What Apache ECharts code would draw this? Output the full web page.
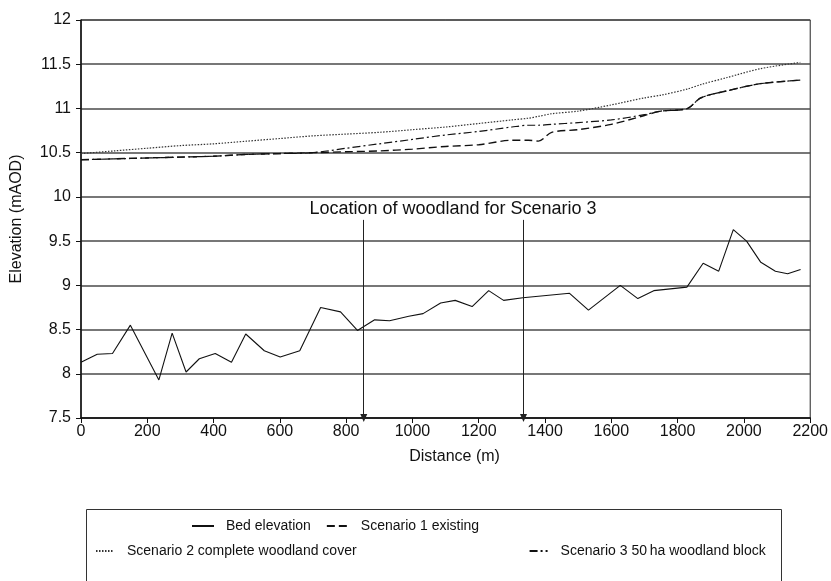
<!DOCTYPE html>
<html>
<head>
<meta charset="utf-8">
<script src="https://cdn.jsdelivr.net/npm/echarts@6/dist/echarts.min.js"></script>
<style>
html,body{margin:0;padding:0;background:#fff;}
#chart{width:831px;height:581px;}
</style>
</head>
<body>
<div id="chart"></div>
<script>
// ---- data ----
var bedDistance = [0,49,95,149,235,275,317,357,405,454,497,553,601,660,723,783,834,886,931,989,1032,1085,1129,1180,1230,1275,1333,1474,1531,1627,1680,1728,1828,1877,1924,1968,2008,2051,2095,2132,2171];
var bedElevation = [8.13,8.22,8.23,8.55,7.93,8.46,8.02,8.17,8.23,8.13,8.45,8.26,8.19,8.26,8.75,8.70,8.49,8.61,8.60,8.65,8.68,8.80,8.83,8.76,8.94,8.83,8.86,8.91,8.72,9.00,8.85,8.94,8.98,9.25,9.16,9.63,9.50,9.26,9.16,9.13,9.18];

var scenarioDistance = [0,100,200,300,400,500,600,700,800,900,1000,1100,1200,1300,1350,1380,1420,1500,1600,1700,1750,1830,1870,1950,2050,2170];
var scenario1 = [10.42,10.43,10.44,10.45,10.46,10.48,10.49,10.50,10.51,10.52,10.54,10.57,10.59,10.64,10.64,10.63,10.73,10.76,10.82,10.92,10.97,11.00,11.12,11.20,11.28,11.32];
var scenario2 = [10.49,10.52,10.55,10.58,10.60,10.63,10.66,10.69,10.71,10.73,10.76,10.79,10.83,10.87,10.89,10.91,10.94,10.97,11.04,11.12,11.15,11.22,11.27,11.35,11.45,11.52];
var scenario3 = [10.42,10.43,10.44,10.45,10.46,10.48,10.49,10.50,10.55,10.60,10.65,10.70,10.74,10.79,10.81,10.81,10.82,10.84,10.87,10.93,10.97,11.00,11.12,11.20,11.28,11.32];

var seriesNames = ['Bed elevation','Scenario 1 existing','Scenario 2 complete woodland cover','Scenario 3 50\u2009ha woodland block'];
var woodlandArrowDistance = [853, 1335];
var woodlandArrowTop = 9.74;
var woodlandLabel = 'Location of woodland for Scenario 3';

var xTitle = 'Distance (m)';
var yTitle = 'Elevation (mAOD)';

function pairs(xs, ys){ return xs.map(function(x,i){ return [x, ys[i]]; }); }

var FONT = 'Liberation Sans';
var chart = echarts.init(document.getElementById('chart'), null, {renderer:'canvas'});

var arrowData = woodlandArrowDistance.map(function(d){
  return [{coord:[d, woodlandArrowTop]}, {coord:[d, 7.5]}];
});

chart.setOption({
  animation:false,
  backgroundColor:'#fff',
  grid:{left:81, right:20, top:20, bottom:163, show:true, borderColor:'#222', borderWidth:1},
  xAxis:{
    type:'value', min:0, max:2200, interval:200,
    name:xTitle, nameLocation:'middle', nameGap:31,
    nameTextStyle:{fontFamily:FONT, fontSize:16, color:'#111', padding:[0,0,0,18]},
    axisLine:{show:true, lineStyle:{color:'#111', width:1.5}},
    axisTick:{show:true, length:5, lineStyle:{color:'#111'}},
    axisLabel:{fontFamily:FONT, fontSize:16, color:'#111', margin:6, formatter:function(v){return String(v);}},
    splitLine:{show:false}
  },
  yAxis:{
    type:'value', min:7.5, max:12, interval:0.5,
    name:yTitle, nameLocation:'middle', nameGap:56, nameRotate:90,
    nameTextStyle:{fontFamily:FONT, fontSize:16, color:'#111'},
    axisLine:{show:true, lineStyle:{color:'#111', width:1.5}},
    axisTick:{show:true, length:5, lineStyle:{color:'#111'}},
    axisLabel:{fontFamily:FONT, fontSize:16, color:'#111', margin:10, formatter:function(v){return String(v);}},
    splitLine:{show:true, lineStyle:{color:'#4a4a4a', width:1.5}}
  },
  legend:[
    {data:[seriesNames[0], seriesNames[1]], left:191, top:519, padding:0, itemWidth:22, itemHeight:10, itemGap:15,
     itemStyle:{opacity:0, borderWidth:0},
     textStyle:{fontFamily:FONT, fontSize:14, color:'#111', padding:[0,0,0,7]}},
    {data:[seriesNames[2], seriesNames[3]], left:95, top:544, padding:0, itemWidth:18, itemHeight:10, itemGap:172,
     itemStyle:{opacity:0, borderWidth:0},
     textStyle:{fontFamily:FONT, fontSize:14, color:'#111', padding:[0,0,0,8]}}
  ],
  graphic:[
    {type:'rect', left:84, top:507, shape:{width:695, height:72}, style:{fill:'none', stroke:'#333', lineWidth:1}},
    {type:'text', x:453, y:209, style:{text:woodlandLabel, font:'18px "Liberation Sans"', fill:'#111', textAlign:'center', textVerticalAlign:'middle'}}
  ],
  series:[
    {name:seriesNames[0], type:'line', data:pairs(bedDistance, bedElevation), symbol:'none', showSymbol:false,
     lineStyle:{color:'#111', width:1.1, type:'solid'}, itemStyle:{color:'#111'},
     markLine:{silent:true, symbol:['none','triangle'], symbolSize:[7,8], label:{show:false},
       lineStyle:{color:'#222', width:1, type:'solid'}, data:arrowData}},
    {name:seriesNames[1], type:'line', data:pairs(scenarioDistance, scenario1), symbol:'none', showSymbol:false, smooth:0.3,
     lineStyle:{color:'#111', width:1.4, type:[8,4]}, itemStyle:{color:'#111'}},
    {name:seriesNames[2], type:'line', data:pairs(scenarioDistance, scenario2), symbol:'none', showSymbol:false, smooth:0.3,
     lineStyle:{color:'#333', width:1.2, type:[1.5,1.5]}, itemStyle:{color:'#333'}},
    {name:seriesNames[3], type:'line', data:pairs(scenarioDistance, scenario3), symbol:'none', showSymbol:false, smooth:0.3,
     lineStyle:{color:'#111', width:1.2, type:[8,3,2,3]}, itemStyle:{color:'#111'}}
  ]
});
</script>
</body>
</html>
